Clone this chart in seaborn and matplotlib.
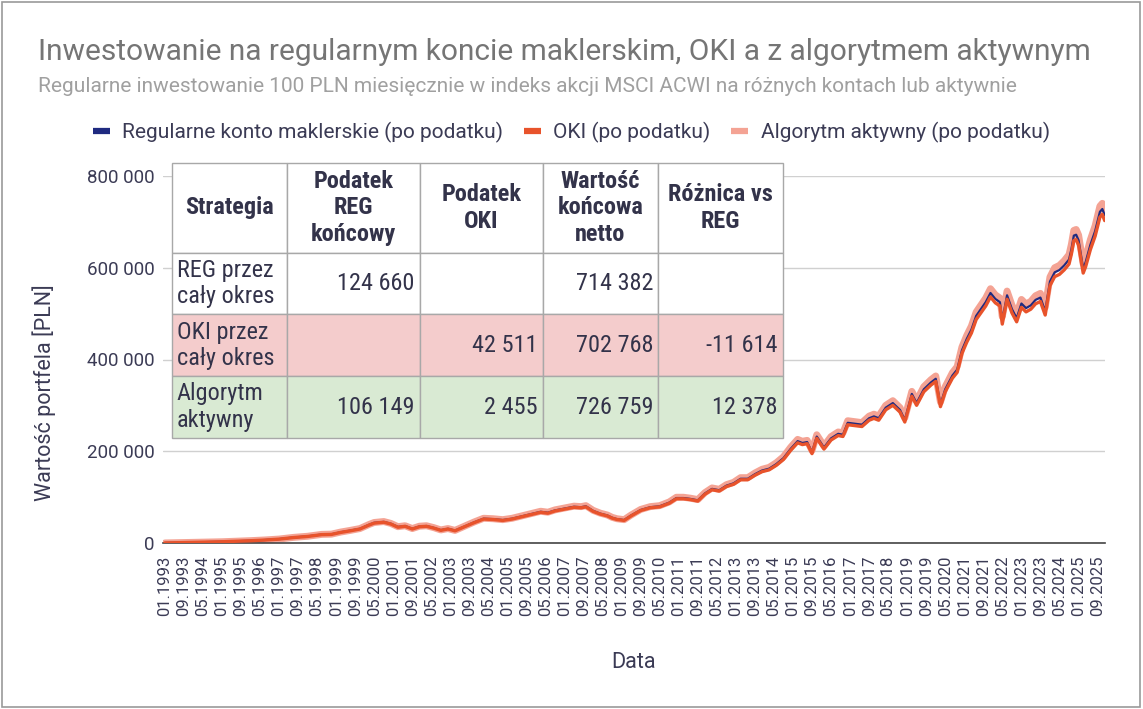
import numpy as np
import pandas as pd

import matplotlib
matplotlib.use("Agg")
import matplotlib.pyplot as plt
import seaborn as sns
from matplotlib import font_manager
from matplotlib.lines import Line2D
from matplotlib.patches import Rectangle

#####################################
### DATA (values in thousands PLN)
#####################################
dates = [
    "01.1993", "07.1993", "01.1994", "07.1994", "01.1995", "07.1995", "01.1996", "07.1996",
    "01.1997", "07.1997", "01.1998", "07.1998", "11.1998", "03.1999", "07.1999", "11.1999",
    "03.2000", "05.2000", "09.2000", "12.2000", "03.2001", "06.2001", "09.2001", "12.2001",
    "03.2002", "06.2002", "09.2002", "12.2002", "03.2003", "07.2003", "11.2003", "03.2004",
    "07.2004", "11.2004", "03.2005", "07.2005", "11.2005", "03.2006", "06.2006", "09.2006",
    "01.2007", "05.2007", "08.2007", "10.2007", "01.2008", "04.2008", "07.2008", "09.2008",
    "11.2008", "02.2009", "05.2009", "09.2009", "01.2010", "05.2010", "09.2010", "12.2010",
    "03.2011", "06.2011", "09.2011", "12.2011", "03.2012", "06.2012", "09.2012", "12.2012",
    "03.2013", "06.2013", "09.2013", "12.2013", "03.2014", "06.2014", "09.2014", "12.2014",
    "03.2015", "05.2015", "07.2015", "09.2015", "11.2015", "02.2016", "05.2016", "08.2016",
    "10.2016", "12.2016", "03.2017", "06.2017", "09.2017", "11.2017", "01.2018", "04.2018",
    "07.2018", "10.2018", "12.2018", "03.2019", "05.2019", "08.2019", "11.2019", "01.2020",
    "03.2020", "05.2020", "08.2020", "10.2020", "12.2020", "02.2021", "04.2021", "06.2021",
    "08.2021", "10.2021", "12.2021", "02.2022", "04.2022", "05.2022", "07.2022", "09.2022",
    "11.2022", "01.2023", "03.2023", "05.2023", "07.2023", "09.2023", "11.2023", "01.2024",
    "03.2024", "05.2024", "07.2024", "09.2024", "10.2024", "11.2024", "12.2024", "01.2025",
    "03.2025", "04.2025", "06.2025", "08.2025", "10.2025", "11.2025", "12.2025",
]

reg_k = [
    0.1, 0.7, 1.4, 2.0, 2.7, 3.8, 5.0, 6.5,
    8.5, 12.0, 14.5, 18.5, 19.0, 23.5, 27.0, 31.0,
    40.0, 44.0, 46.0, 42.0, 35.0, 37.0, 31.0, 36.0,
    37.0, 33.0, 28.0, 31.0, 27.0, 36.0, 45.0, 53.0,
    52.0, 50.0, 53.0, 58.0, 63.0, 68.0, 66.0, 71.0,
    75.0, 79.0, 78.0, 80.0, 70.0, 64.0, 60.0, 55.0,
    52.0, 50.0, 60.0, 72.0, 78.0, 80.0, 88.0, 98.0,
    98.0, 96.0, 93.0, 108.0, 118.0, 115.0, 125.0, 130.0,
    140.0, 140.0, 150.0, 158.0, 162.0, 172.0, 185.0, 205.0,
    222.0, 218.0, 220.0, 198.0, 232.0, 208.0, 228.0, 238.0,
    236.0, 262.0, 260.0, 258.0, 272.0, 276.0, 272.0, 295.0,
    305.0, 290.0, 268.0, 325.0, 305.0, 335.0, 350.0, 358.0,
    302.0, 335.0, 365.0, 378.0, 420.0, 445.0, 465.0, 495.0,
    510.0, 525.0, 545.0, 532.0, 525.0, 485.0, 540.0, 510.0,
    490.0, 522.0, 512.0, 518.0, 530.0, 535.0, 505.0, 570.0,
    590.0, 595.0, 605.0, 618.0, 640.0, 670.0, 672.0, 660.0,
    598.0, 612.0, 650.0, 680.0, 722.0, 728.0, 714.4,
]

oki_k = [
    0.1, 0.7, 1.4, 2.0, 2.7, 3.8, 4.9, 6.4,
    8.4, 11.8, 14.3, 18.2, 18.7, 23.1, 26.6, 30.5,
    39.4, 43.3, 45.3, 41.3, 34.4, 36.4, 30.5, 35.4,
    36.4, 32.5, 27.6, 30.5, 26.6, 35.4, 44.3, 52.2,
    51.2, 49.2, 52.2, 57.1, 62.0, 66.9, 64.9, 69.9,
    73.8, 77.7, 76.8, 78.7, 68.9, 63.0, 59.0, 54.1,
    51.2, 49.2, 59.0, 70.9, 76.8, 78.7, 86.6, 96.4,
    96.4, 94.5, 91.5, 106.3, 116.1, 113.2, 123.0, 127.9,
    137.8, 137.8, 147.6, 155.5, 159.4, 169.2, 182.0, 201.7,
    218.4, 214.5, 216.5, 194.8, 228.3, 204.7, 224.4, 234.2,
    232.2, 257.8, 255.8, 253.9, 267.6, 271.6, 267.6, 290.3,
    300.1, 285.4, 263.7, 319.8, 300.1, 329.6, 344.4, 352.3,
    297.2, 329.6, 359.2, 372.0, 413.3, 437.9, 457.6, 487.1,
    501.8, 516.6, 536.3, 523.5, 516.6, 477.2, 531.4, 501.8,
    482.2, 513.6, 503.8, 509.7, 521.5, 526.4, 496.9, 560.9,
    580.6, 585.5, 595.3, 608.1, 629.8, 659.3, 661.2, 649.4,
    588.4, 602.2, 639.6, 669.1, 710.4, 716.4, 702.8,
]

alg_k = [
    0.1, 0.7, 1.4, 2.0, 2.7, 3.8, 5.1, 6.6,
    8.6, 12.2, 14.7, 18.8, 19.3, 23.9, 27.5, 31.5,
    40.7, 44.7, 46.8, 42.7, 35.6, 37.6, 31.5, 36.6,
    37.6, 33.6, 28.5, 31.5, 27.5, 36.6, 45.8, 53.9,
    52.9, 50.9, 53.9, 59.0, 64.1, 69.2, 67.1, 72.2,
    76.3, 80.3, 79.3, 81.4, 71.2, 65.1, 61.0, 55.9,
    52.9, 50.9, 61.0, 73.2, 79.3, 81.4, 89.5, 99.7,
    99.7, 97.6, 94.6, 109.8, 120.0, 117.0, 127.1, 132.2,
    142.4, 142.4, 152.6, 160.7, 164.8, 174.9, 188.1, 208.5,
    225.8, 221.7, 223.7, 201.4, 235.9, 211.5, 231.9, 242.0,
    240.0, 266.5, 264.4, 262.4, 276.6, 280.7, 276.6, 300.0,
    310.2, 294.9, 272.6, 330.5, 310.2, 340.7, 356.0, 364.1,
    307.1, 340.7, 371.2, 384.4, 427.1, 452.6, 472.9, 503.4,
    518.7, 533.9, 554.3, 541.0, 533.9, 493.2, 549.2, 518.7,
    498.3, 530.9, 520.7, 526.8, 539.0, 544.1, 513.6, 579.7,
    600.0, 605.1, 615.3, 628.5, 650.9, 681.4, 683.4, 671.2,
    608.2, 622.4, 661.1, 691.6, 734.3, 740.4, 726.8,
]

series_names = [
    "Regularne konto maklerskie (po podatku)",
    "OKI (po podatku)",
    "Algorytm aktywny (po podatku)",
]
series_colors = ["#1f2a80", "#e8532b", "#f4a394"]

table_header = ["Strategia", "Podatek\nREG\nkońcowy", "Podatek\nOKI",
                "Wartość\nkońcowa\nnetto", "Różnica vs\nREG"]
table_rows = [
    ["REG przez\ncały okres", "124 660", "", "714 382", ""],
    ["OKI przez\ncały okres", "", "42 511", "702 768", "-11 614"],
    ["Algorytm\naktywny", "106 149", "2 455", "726 759", "12 378"],
]
row_colors = ["#ffffff", "#f4cccc", "#d9ead3"]

y_ticks = [0, 200000, 400000, 600000, 800000]

#####################################
### DATA PREP
#####################################
df = pd.DataFrame({
    "Data": pd.to_datetime(dates, format="%m.%Y"),
    series_names[0]: np.array(reg_k) * 1000,
    series_names[1]: np.array(oki_k) * 1000,
    series_names[2]: np.array(alg_k) * 1000,
})
long_df = df.melt(id_vars="Data", var_name="Seria", value_name="Wartosc")

#####################################
### PLOT
#####################################
sns.set_style("white")
plt.rcParams['font.family'] = ['Roboto', 'DejaVu Sans']
names = {f.name for f in font_manager.fontManager.ttflist}
table_font = 'Roboto Condensed' if 'Roboto Condensed' in names else 'Roboto'

text_col = "#3b3b55"

fig = plt.figure(figsize=(11.43, 7.09), dpi=100)
ax = fig.add_axes([163 / 1143, 1 - 543 / 709, 942 / 1143, 367 / 709])

# salmon band at the bottom, navy on it, orange on top
widths = [1.6, 2.4, 5.0]
zorders = [3, 4, 2]
for name, col, lw, z in zip(series_names, series_colors, widths, zorders):
    sns.lineplot(
        data=long_df[long_df["Seria"] == name],
        x="Data", y="Wartosc",
        color=col, linewidth=lw,
        ax=ax, zorder=z, legend=False,
    )

ax.set_ylim(0, 800000)
ax.set_xlim(pd.Timestamp("1992-12-08"), pd.Timestamp("2025-12-05"))
ax.set_yticks(y_ticks)
ax.set_yticklabels([f"{v:,}".replace(",", " ") for v in y_ticks])

xt = pd.date_range("1993-01-01", "2025-09-01", freq="8MS")
ax.set_xticks(xt)
ax.set_xticklabels([d.strftime("%m.%Y") for d in xt], rotation=90)

ax.tick_params(axis="y", length=0, pad=6, labelsize=13.5, labelcolor=text_col)
ax.tick_params(axis="x", length=0, pad=9, labelsize=12, labelcolor=text_col)
ax.yaxis.grid(True, color="#d0d0d0", linewidth=1.0)
ax.xaxis.grid(False)
for s in ["top", "right", "left"]:
    ax.spines[s].set_visible(False)
ax.spines["bottom"].set_color("#444444")
ax.spines["bottom"].set_linewidth(1.2)

ax.set_ylabel("Wartość portfela [PLN]", fontsize=15.5, color=text_col)
ax.yaxis.set_label_coords(-0.114, 0.41)
ax.set_xlabel("Data", fontsize=15.5, color=text_col)
ax.xaxis.set_label_coords(0.5, -0.297)

# table
col_w = [115, 133, 123, 115, 125]
tbl = ax.table(
    cellText=[table_header] + table_rows,
    colWidths=[w / sum(col_w) for w in col_w],
    cellLoc="right",
    bbox=[9 / 942, 105 / 367, 611 / 942, 275 / 367],
    zorder=6,
)
tbl.auto_set_font_size(False)
tbl.set_fontsize(17.5)
for (r, c), cell in tbl.get_celld().items():
    cell.set_edgecolor("#a8a8a8")
    cell.set_linewidth(1.0)
    cell.set_height(90 if r == 0 else 62)
    cell.PAD = 0.04
    cell.set_text_props(color="#33334a", family=[table_font, 'DejaVu Sans'])
    if r == 0:
        cell.set_facecolor("#ffffff")
        cell.set_text_props(ha="center", weight="bold")
    else:
        cell.set_facecolor(row_colors[r - 1])
        if c == 0:
            cell.set_text_props(ha="left")

# titles
fig.text(38 / 1143, 1 - 52 / 709,
         "Inwestowanie na regularnym koncie maklerskim, OKI a z algorytmem aktywnym",
         fontsize=21.5, color="#757575", va="center", ha="left")
fig.text(38 / 1143, 1 - 87 / 709,
         "Regularne inwestowanie 100 PLN miesięcznie w indeks akcji MSCI ACWI na różnych kontach lub aktywnie",
         fontsize=15, color="#a0a0a0", va="center", ha="left")

handles = [Line2D([0], [0], color=c, lw=4.5, solid_capstyle="butt") for c in series_colors]
fig.legend(handles, series_names, loc="center", bbox_to_anchor=(0.5, 1 - 132 / 709),
           ncol=3, frameon=False, fontsize=15, labelcolor=text_col,
           handlelength=0.8, handletextpad=0.6, columnspacing=1.0)

fig.patches.append(Rectangle((0.002, 0.003), 0.995, 0.994, transform=fig.transFigure,
                             fill=False, edgecolor="#9a9a9a", linewidth=1.2))

fig.savefig("out.png", dpi=100)
plt.close()
